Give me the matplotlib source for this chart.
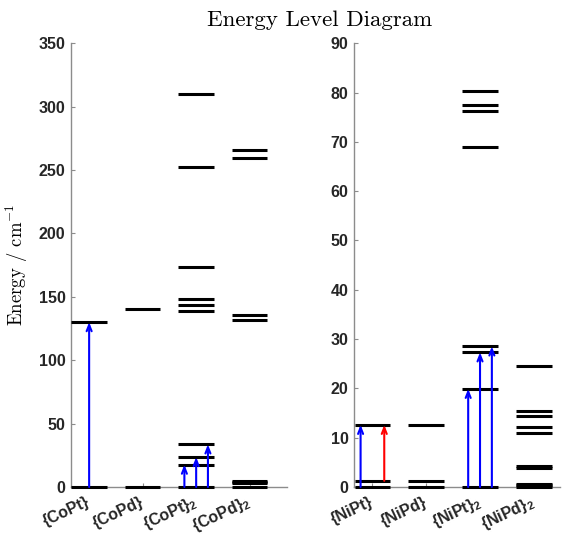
import matplotlib
matplotlib.use("Agg")
import matplotlib.pyplot as plt
import matplotlib.transforms as mtransforms

plt.rcParams["mathtext.fontset"] = "custom"
plt.rcParams["mathtext.rm"] = "cmr10"
plt.rcParams["mathtext.bf"] = "Liberation Sans:bold"
plt.rcParams["axes.unicode_minus"] = False

# ---- data: energy levels (cm^-1) ----
co_labels = ["{CoPt}", "{CoPd}", "{CoPt}$_\\mathbf{2}$", "{CoPd}$_\\mathbf{2}$"]
co_levels = [
    [0, 130],
    [0, 140],
    [0, 17.6, 23.6, 33.6, 138.5, 143.2, 148, 173.7, 252, 309.8],
    [0, 3.2, 4.0, 4.8, 131.4, 135.8, 259.6, 265.4],
]
# transitions: (category, offset, start, end, colour)
co_arrows = [
    (1, 0.0, 0, 130, "blue"),
    (3, -0.22, 0, 17.6, "blue"),
    (3, 0.0, 0, 23.6, "blue"),
    (3, 0.22, 0, 33.6, "blue"),
]

ni_labels = ["{NiPt}", "{NiPd}", "{NiPt}$_\\mathbf{2}$", "{NiPd}$_\\mathbf{2}$"]
ni_levels = [
    [0, 1.25, 12.6],
    [0, 1.25, 12.6],
    [0, 19.9, 27.3, 28.5, 68.9, 76.3, 77.5, 80.3],
    [0, 0.35, 0.7, 3.8, 4.3, 10.9, 12.2, 14.3, 15.5, 24.5],
]
ni_arrows = [
    (1, -0.22, 0, 12.6, "blue"),
    (1, 0.22, 1.25, 12.6, "red"),
    (3, -0.22, 0, 19.9, "blue"),
    (3, 0.0, 0, 27.3, "blue"),
    (3, 0.22, 0, 28.5, "blue"),
]

HALF = 0.33
spine_col = "#8c8c8c"
tick_col = "#262626"


def draw_panel(ax, labels, levels, arrows, ymax, xmax):
    for i, lv in enumerate(levels, start=1):
        for e in lv:
            ax.plot([i - HALF, i + HALF], [e, e], color="black", lw=2.2,
                    solid_capstyle="butt", zorder=3, clip_on=False)
    for cat, off, y0, y1, col in arrows:
        ax.annotate("", xy=(cat + off, y1), xytext=(cat + off, y0),
                    arrowprops=dict(arrowstyle="->,head_length=0.45,head_width=0.18",
                                    color=col, lw=1.5, shrinkA=0, shrinkB=0),
                    zorder=4)
    ax.set_xlim(0.66, xmax)
    ax.set_ylim(0, ymax)
    ax.set_xticks(range(1, len(labels) + 1))
    ax.set_xticklabels(labels, rotation=25, ha="right", va="center",
                       rotation_mode="anchor", fontweight="bold", fontsize=11.5,
                       family="Liberation Sans", color=tick_col)
    shift = mtransforms.ScaledTranslation(5 / 100, 0, ax.figure.dpi_scale_trans)
    for lab in ax.get_xticklabels():
        lab.set_transform(lab.get_transform() + shift)
    ax.tick_params(axis="y", direction="in", length=3, labelsize=11.5,
                   labelcolor=tick_col, color=spine_col, pad=4)
    ax.tick_params(axis="x", direction="in", length=3, color=spine_col, pad=10)
    for s in ["top", "right"]:
        ax.spines[s].set_visible(False)
    for s in ["left", "bottom"]:
        ax.spines[s].set_color(spine_col)
        ax.spines[s].set_linewidth(1.0)
        ax.spines[s].set_zorder(2)


fig = plt.figure(figsize=(5.63, 5.36), dpi=100)
ax1 = fig.add_axes([0.126, 0.0914, 0.384, 0.828])
ax2 = fig.add_axes([0.629, 0.0914, 0.366, 0.828])

draw_panel(ax1, co_labels, co_levels, co_arrows, 350, 4.7)
ax1.set_yticks(range(0, 351, 50))
draw_panel(ax2, ni_labels, ni_levels, ni_arrows, 90, 4.49)
ax2.set_yticks(range(0, 91, 10))
for ax in (ax1, ax2):
    for lab in ax.get_yticklabels():
        lab.set_fontweight("bold")
        lab.set_family("Liberation Sans")

ax1.set_ylabel(r"Energy / cm$^{-1}$", family="cmr10", fontsize=13.5, labelpad=6)
fig.text(0.568, 0.962, "Energy Level Diagram", family="cmr10", fontsize=16.5,
         ha="center", va="center")

fig.savefig("out.png", dpi=100)
